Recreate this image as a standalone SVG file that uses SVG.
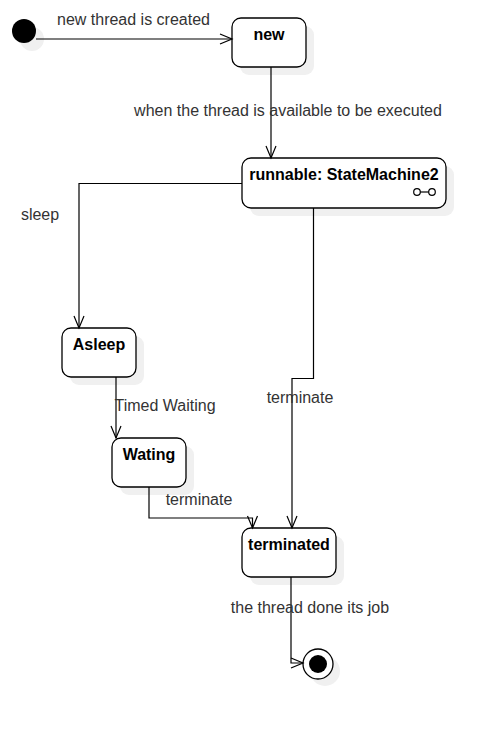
<svg xmlns="http://www.w3.org/2000/svg" width="495" height="730" viewBox="0 0 495 730">
<style>
.shadow{fill:#f0f0f0;stroke:none}
.node{fill:#ffffff;stroke:#000000;stroke-width:1.3}
.title{font-family:"Liberation Sans",Arial,sans-serif;font-size:16px;font-weight:bold;fill:#000000;text-anchor:middle}
.edge{fill:none;stroke:#000000;stroke-width:1.2}
.lbl{font-family:"Liberation Sans",Arial,sans-serif;font-size:16px;fill:#333333;text-anchor:middle}
</style>
<defs>
<marker id="open" viewBox="-12 -6 14 12" refX="0" refY="0" markerWidth="14" markerHeight="12" markerUnits="userSpaceOnUse" orient="auto" overflow="visible">
<path d="M-12,-5 L0,0 L-12,5" fill="none" stroke="#000000" stroke-width="1.2"/>
</marker>
</defs>
<rect width="495" height="730" fill="#ffffff"/>

<g id="initial">
<circle class="shadow" cx="32" cy="39" r="12"/>
<circle cx="24" cy="31" r="12" fill="#000000"/>
</g>

<g id="new">
<rect class="shadow" x="240" y="26" width="74" height="49" rx="9"/>
<rect class="node" x="232" y="18" width="74" height="49" rx="9"/>
<text class="title" x="269" y="40">new</text>
</g>

<g id="runnable">
<rect class="shadow" x="250" y="166" width="204" height="50" rx="9"/>
<rect class="node" x="242" y="158" width="204" height="50" rx="9"/>
<text class="title" x="344" y="180">runnable: StateMachine2</text>
<circle cx="417" cy="192" r="3.3" fill="none" stroke="#000" stroke-width="1.2"/>
<circle cx="432" cy="192" r="3.3" fill="none" stroke="#000" stroke-width="1.2"/>
<line x1="420.3" y1="192" x2="428.7" y2="192" stroke="#000" stroke-width="1.2"/>
</g>

<g id="asleep">
<rect class="shadow" x="70" y="336" width="74" height="49" rx="9"/>
<rect class="node" x="62" y="328" width="74" height="49" rx="9"/>
<text class="title" x="99" y="350">Asleep</text>
</g>

<g id="wating">
<rect class="shadow" x="120" y="446" width="74" height="49" rx="9"/>
<rect class="node" x="112" y="438" width="74" height="49" rx="9"/>
<text class="title" x="149" y="460">Wating</text>
</g>

<g id="terminated">
<rect class="shadow" x="250" y="536" width="94" height="49" rx="9"/>
<rect class="node" x="242" y="528" width="94" height="49" rx="9"/>
<text class="title" x="289" y="550">terminated</text>
</g>

<g id="final">
<circle class="shadow" cx="325" cy="671" r="15"/>
<circle cx="318" cy="664" r="15" fill="#ffffff" stroke="#000" stroke-width="1.3"/>
<circle cx="318" cy="664" r="9" fill="#000000"/>
</g>

<g id="connectors">
<path class="edge" d="M36,39 L232,39" marker-end="url(#open)"/>
<path class="edge" d="M271,67 L271,158" marker-end="url(#open)"/>
<path class="edge" d="M242,183.5 L79,183.5 L79,328" marker-end="url(#open)"/>
<path class="edge" d="M116,377 L116,438" marker-end="url(#open)"/>
<path class="edge" d="M149,487 L149,518 L252.5,518 L252.5,528" marker-end="url(#open)"/>
<path class="edge" d="M313.5,208 L313.5,378.5 L292,378.5 L292,528" marker-end="url(#open)"/>
<path class="edge" d="M291,577 L291,663 L303,663" marker-end="url(#open)"/>
</g>

<g id="labels">
<text class="lbl" x="133.5" y="25">new thread is created</text>
<text class="lbl" x="288" y="116">when the thread is available to be executed</text>
<text class="lbl" x="40" y="220">sleep</text>
<text class="lbl" x="165" y="411">Timed Waiting</text>
<text class="lbl" x="300" y="403">terminate</text>
<text class="lbl" x="199" y="505">terminate</text>
<text class="lbl" x="310" y="613">the thread done its job</text>
</g>
</svg>
